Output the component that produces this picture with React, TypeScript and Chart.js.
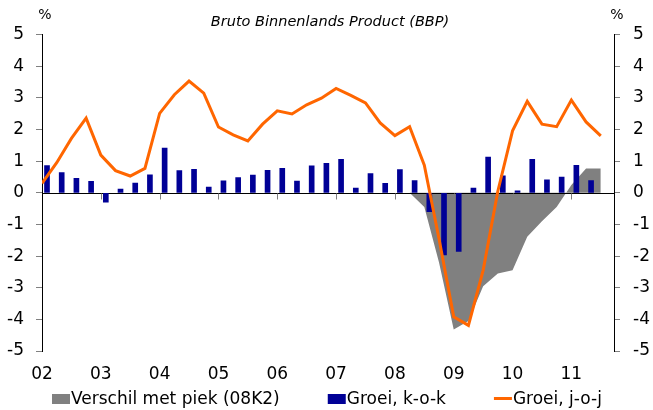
import React, { useEffect, useRef } from "react";
import { Chart, registerables } from "chart.js";

Chart.register(...registerables);

const quarterLabels = [
  "02K1", "02K2", "02K3", "02K4", "03K1", "03K2", "03K3", "03K4",
  "04K1", "04K2", "04K3", "04K4", "05K1", "05K2", "05K3", "05K4",
  "06K1", "06K2", "06K3", "06K4", "07K1", "07K2", "07K3", "07K4",
  "08K1", "08K2", "08K3", "08K4", "09K1", "09K2", "09K3", "09K4",
  "10K1", "10K2", "10K3", "10K4", "11K1", "11K2", "11K3",
];

const yearTickLabels = ["02", "03", "04", "05", "06", "07", "08", "09", "10", "11"];

// Groei, j-o-j (%)
const yoyGrowth = [
  0.3, 0.95, 1.72, 2.36, 1.19, 0.7, 0.53, 0.77,
  2.51, 3.1, 3.53, 3.15, 2.08, 1.83, 1.64, 2.17,
  2.59, 2.49, 2.78, 2.99, 3.3, 3.08, 2.84, 2.21,
  1.81, 2.09, 0.87, -1.45, -3.92, -4.19, -2.45, 0.05,
  1.96, 2.89, 2.17, 2.09, 2.93, 2.24, 1.8,
];

// Groei, k-o-k (%)
const qoqGrowth = [
  0.86, 0.64, 0.46, 0.36, -0.3, 0.12, 0.31, 0.57,
  1.41, 0.7, 0.74, 0.18, 0.38, 0.48, 0.56, 0.71,
  0.77, 0.37, 0.85, 0.93, 1.06, 0.15, 0.61, 0.3,
  0.73, 0.39, -0.6, -1.96, -1.85, 0.15, 1.13, 0.54,
  0.06, 1.06, 0.41, 0.5, 0.87, 0.39,
];

// Verschil met piek (08K2) (%)
const gapFromPeak = [
  null, null, null, null, null, null, null, null,
  null, null, null, null, null, null, null, null,
  null, null, null, null, null, null, null, null,
  null, 0, -0.45, -2.2, -4.32, -4.05, -2.95, -2.55,
  -2.45, -1.39, -0.9, -0.45, 0.25, 0.77, 0.77,
];

const seriesLabels = ["Verschil met piek (08K2)", "Groei, k-o-k", "Groei, j-o-j"];
const seriesColors = ["#808080", "#000096", "#ff6600"];

const FONT = "'DejaVu Sans', Verdana, sans-serif";

const toPoints = (arr: (number | null)[]) =>
  arr.map((v, i) => ({ x: i, y: v, label: quarterLabels[i] }));

const decorPlugin = {
  id: "decor",
  afterDatasetDraw(chart: any, args: any) {
    if (args.index !== 0) return;
    const { ctx, chartArea, scales } = chart;
    const y0 = Math.round(scales.y.getPixelForValue(0)) + 0.5;
    ctx.save();
    ctx.strokeStyle = "#000";
    ctx.lineWidth = 1;
    ctx.beginPath();
    ctx.moveTo(chartArea.left, y0);
    ctx.lineTo(chartArea.right, y0);
    ctx.stroke();
    ctx.strokeStyle = "#808080";
    ctx.beginPath();
    yearTickLabels.forEach((_, k) => {
      const x = Math.round(scales.x.getPixelForValue(k * 4)) + 0.5;
      if (k === 0) return;
      ctx.moveTo(x, y0);
      ctx.lineTo(x, y0 + 6);
    });
    ctx.stroke();
    ctx.restore();
  },
  afterDraw(chart: any) {
    const { ctx, chartArea } = chart;
    ctx.save();
    ctx.fillStyle = "#000";
    ctx.textBaseline = "middle";
    ctx.textAlign = "center";
    ctx.font = `italic 14.5px ${FONT}`;
    ctx.fillText("Bruto Binnenlands Product (BBP)", 330, 22);
    ctx.font = `14px ${FONT}`;
    ctx.fillText("%", chartArea.left + 3, 15);
    ctx.fillText("%", chartArea.right + 3, 15);

    // legend
    ctx.font = `17px ${FONT}`;
    ctx.textAlign = "left";
    const ly = 400;
    let x = 52;
    seriesLabels.forEach((label, i) => {
      ctx.fillStyle = seriesColors[i];
      if (i === 2) {
        ctx.strokeStyle = seriesColors[i];
        ctx.lineWidth = 3;
        ctx.beginPath();
        ctx.moveTo(x, ly - 1.5);
        ctx.lineTo(x + 18, ly - 1.5);
        ctx.stroke();
      } else {
        ctx.fillRect(x, ly - 6, 18, 10);
      }
      ctx.fillStyle = "#000";
      ctx.fillText(label, x + 19, ly);
      x += 19 + ctx.measureText(label).width + 48;
    });
    ctx.restore();
  },
};

export default function App() {
  const ref = useRef<HTMLCanvasElement>(null);
  useEffect(() => {
    document.body.style.margin = "0";
    const chart = new Chart(ref.current as HTMLCanvasElement, {
      type: "line",
      data: {
        datasets: [
          {
            type: "line",
            label: seriesLabels[0],
            data: toPoints(gapFromPeak) as any,
            xAxisID: "x",
            yAxisID: "y",
            backgroundColor: seriesColors[0],
            borderColor: "rgba(0,0,0,0)",
            borderWidth: 0,
            pointRadius: 0,
            fill: "origin",
            tension: 0,
            order: 3,
          },
          {
            type: "bar",
            label: seriesLabels[1],
            data: toPoints(qoqGrowth) as any,
            xAxisID: "xb",
            yAxisID: "y",
            backgroundColor: seriesColors[1],
            barThickness: 5,
            order: 2,
          },
          {
            type: "line",
            label: seriesLabels[2],
            data: toPoints(yoyGrowth) as any,
            xAxisID: "x",
            yAxisID: "y",
            borderColor: seriesColors[2],
            backgroundColor: seriesColors[2],
            borderWidth: 3,
            pointRadius: 0,
            fill: false,
            tension: 0,
            order: 1,
          },
        ],
      },
      options: {
        responsive: false,
        animation: false,
        devicePixelRatio: 1,
        layout: { padding: { top: 34.6, bottom: 0, left: 0, right: 0 } },
        plugins: {
          legend: { display: false },
          title: { display: false },
          tooltip: { enabled: false },
        },
        scales: {
          x: {
            type: "linear",
            min: 0,
            max: 38.9,
            offset: false,
            position: "bottom",
            grid: { display: false, drawTicks: false },
            border: { display: false },
            afterBuildTicks: (s: any) => {
              s.ticks = yearTickLabels.map((_, k) => ({ value: k * 4 }));
            },
            afterFit: (s: any) => {
              s.height = 59;
            },
            ticks: {
              autoSkip: false,
              maxRotation: 0,
              padding: 13,
              color: "#000",
              font: { family: FONT, size: 17 },
              callback: (v: any) => yearTickLabels[Math.round(Number(v) / 4)] ?? "",
            },
          },
          xb: {
            type: "linear",
            min: -0.17,
            max: 38.73,
            offset: false,
            display: false,
          },
          y: {
            type: "linear",
            position: "left",
            min: -5,
            max: 5,
            afterFit: (s: any) => {
              s.width = 42;
            },
            ticks: { stepSize: 1, padding: 12, color: "#000", font: { family: FONT, size: 17 } },
            grid: { drawOnChartArea: false, tickLength: 6, tickColor: "#808080" },
            border: { color: "#000", width: 1 },
          },
          y2: {
            type: "linear",
            position: "right",
            min: -5,
            max: 5,
            afterFit: (s: any) => {
              s.width = 39;
            },
            ticks: { stepSize: 1, padding: 13, color: "#000", font: { family: FONT, size: 17 } },
            grid: { drawOnChartArea: false, tickLength: 6, tickColor: "#808080" },
            border: { color: "#000", width: 1 },
          },
        },
      },
      plugins: [decorPlugin],
    });
    return () => chart.destroy();
  }, []);
  return (
    <div style={{ width: 653, height: 410 }}>
      <canvas ref={ref} width={653} height={410} style={{ display: "block" }} />
    </div>
  );
}
